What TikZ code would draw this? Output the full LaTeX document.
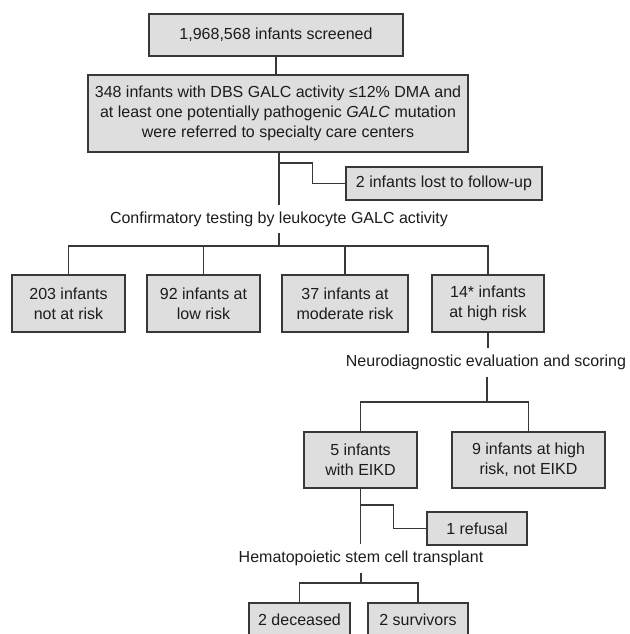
\documentclass[tikz,border=0pt]{standalone}
\usepackage{fontspec}
\setmainfont{Liberation Sans}
\usetikzlibrary{positioning, calc}
\definecolor{boxgray}{HTML}{DEDEDE}
\definecolor{edgegray}{HTML}{383838}
\definecolor{inkgray}{HTML}{1C1C1C}

\begin{document}
\begin{tikzpicture}[x=1pt, y=1pt,
  box/.style={draw=edgegray, fill=boxgray, line width=1.2pt, text=inkgray,
    align=center, inner sep=0pt, font=\fontsize{16}{20}\selectfont},
  lbl/.style={text=inkgray, inner xsep=2pt, inner ysep=6.5pt,
    font=\fontsize{16}{20}\selectfont},
  link/.style={draw=edgegray, line width=1.1pt}]

% Frame
\useasboundingbox (0,0) rectangle (629,-634);
\clip (0,0) rectangle (629,-634);

%% Screening
\node[box, minimum width=254pt, minimum height=42pt] (screened) at (276,-35) {1,968,568 infants screened};
\node[box, minimum width=380pt, minimum height=77pt] (referred) at (278,-113.5)
  {348 infants with DBS GALC activity ≤12\% DMA and\\at least one potentially pathogenic \textit{GALC} mutation\\were referred to specialty care centers};
\node[box, minimum width=196pt, minimum height=33pt] (lost) at (444,-183.5) {2 infants lost to follow-up};

\draw[link] (screened.south) -- (screened.south |- referred.north);

% Trunk with side branch
\node[lbl] (confirm) at (279,-219) {Confirmatory testing by leukocyte GALC activity};
\coordinate (lostsplit) at (279,-163);
\draw[link] (referred.south -| confirm) -- (confirm.north);
\draw[link] (lostsplit) -| ($(lostsplit)!0.5!(lost.west |- lostsplit)$) |- (lost.west);

%% Risk groups
\node[box, minimum width=113pt, minimum height=57pt] (notrisk) at (68.5,-303.5) {203 infants\\not at risk};
\node[box, minimum width=113pt, minimum height=57pt] (lowrisk) at (203.5,-303.5) {92 infants at\\low risk};
\node[box, minimum width=126pt, minimum height=57pt] (modrisk) at (345,-303.5) {37 infants at\\moderate risk};
\node[box, minimum width=112pt, minimum height=57pt] (highrisk) at (488,-303.5) {14* infants\\at high risk};

\coordinate (riskbus) at (279,-246);
\draw[link] (confirm.south) -- (riskbus);
\draw[link] (notrisk.north) |- (riskbus) -| (highrisk.north);
\draw[link] (lowrisk.north) -- (lowrisk.north |- riskbus);
\draw[link] (modrisk.north) -- (modrisk.north |- riskbus);

%% Neurodiagnostic evaluation
\node[lbl] (neuro) at (486,-362.5) {Neurodiagnostic evaluation and scoring};
\node[box, minimum width=113pt, minimum height=56pt] (eikd) at (360.5,-460) {5 infants\\with EIKD};
\node[box, minimum width=153pt, minimum height=56pt] (noteikd) at (528.5,-460) {9 infants at high\\risk, not EIKD};

\coordinate (eikdbus) at (487,-402);
\draw[link] (highrisk.south) -- (highrisk.south |- neuro.north);
\draw[link] (neuro.south -| eikdbus) -- (eikdbus);
\draw[link] (eikd.north) |- (eikdbus) -| (noteikd.north);

%% Transplant
\node[box, minimum width=100pt, minimum height=33pt] (refusal) at (477,-528.5) {1 refusal};
\node[lbl] (hsct) at (361,-558.5) {Hematopoietic stem cell transplant};

\coordinate (refsplit) at (360.5,-505);
\draw[link] (eikd.south) -- (eikd.south |- hsct.north);
\draw[link] (refsplit) -| ($(refsplit)!0.5!(refusal.west |- refsplit)$) |- (refusal.west);

\node[box, minimum width=101pt, minimum height=33pt] (deceased) at (299.5,-619.5) {2 deceased};
\node[box, minimum width=100pt, minimum height=33pt] (survivors) at (418,-619.5) {2 survivors};

\coordinate (hsctbus) at (361,-583);
\draw[link] (hsct.south) -- (hsctbus);
\draw[link] (deceased.north) |- (hsctbus) -| (survivors.north);

\end{tikzpicture}
\end{document}
